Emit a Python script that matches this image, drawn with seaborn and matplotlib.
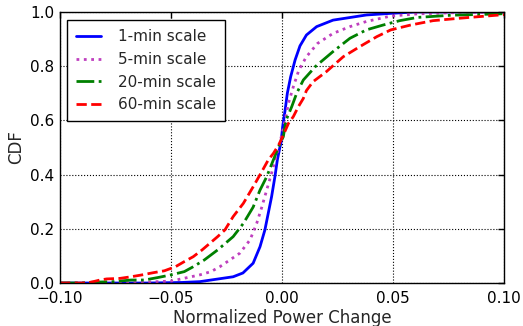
import numpy as np
import pandas as pd
import seaborn as sns
import matplotlib
matplotlib.use("Agg")
import matplotlib.pyplot as plt

# values (normalized power change, CDF)
x_1min = [-0.100, -0.060, -0.045, -0.037, -0.032, -0.022, -0.0176, -0.013, -0.0099, -0.0077,
          -0.0062, -0.0047, -0.0032, -0.0021, -0.0009, -0.0005, 0.0003, 0.0014, 0.0024,
          0.0039, 0.0059, 0.0081, 0.011, 0.0156, 0.023, 0.038, 0.049, 0.060, 0.100]
cdf_1min = [0.000, 0.000, 0.002, 0.005, 0.011, 0.023, 0.037, 0.073, 0.134, 0.196,
            0.257, 0.318, 0.392, 0.454, 0.503, 0.515, 0.577, 0.638, 0.700,
            0.761, 0.823, 0.875, 0.915, 0.946, 0.970, 0.989, 0.995, 1.000, 1.000]

x_5min = [-0.100, -0.070, -0.050, -0.037, -0.032, -0.028, -0.019, -0.0144, -0.0114, -0.0091,
          -0.0069, -0.0047, -0.0027, -0.0012, 0.0014, 0.0029, 0.0051, 0.0076, 0.011,
          0.0160, 0.023, 0.0306, 0.038, 0.049, 0.061, 0.080, 0.100]
cdf_5min = [0.000, 0.000, 0.007, 0.030, 0.042, 0.060, 0.110, 0.159, 0.220, 0.280,
            0.343, 0.405, 0.466, 0.509, 0.600, 0.663, 0.724, 0.786, 0.835,
            0.884, 0.921, 0.946, 0.965, 0.985, 0.993, 0.998, 1.000]

x_20min = [-0.100, -0.090, -0.085, -0.076, -0.068, -0.062, -0.056, -0.050, -0.044, -0.040,
           -0.035, -0.029, -0.022, -0.0174, -0.013, -0.0099, -0.0069, -0.0039, -0.0012,
           0.0006, 0.0018, 0.0044, 0.0066, 0.0096, 0.0152, 0.023, 0.0306, 0.038,
           0.0456, 0.053, 0.061, 0.076, 0.098, 0.100]
cdf_20min = [0.000, 0.000, 0.003, 0.005, 0.011, 0.011, 0.020, 0.030, 0.042, 0.060,
             0.085, 0.122, 0.171, 0.220, 0.280, 0.343, 0.392, 0.454, 0.509,
             0.540, 0.600, 0.651, 0.700, 0.749, 0.800, 0.854, 0.903, 0.934,
             0.952, 0.968, 0.980, 0.988, 0.993, 0.994]

x_60min = [-0.100, -0.088, -0.085, -0.082, -0.079, -0.073, -0.068, -0.063, -0.058, -0.053,
           -0.048, -0.044, -0.040, -0.036, -0.029, -0.0257, -0.022, -0.0174, -0.013,
           -0.0091, -0.0062, -0.0039, -0.0014, 0.0006, 0.0029, 0.0051, 0.0074, 0.0096,
           0.011, 0.014, 0.020, 0.0276, 0.035, 0.0427, 0.049, 0.058, 0.068, 0.080, 0.098, 0.100]
cdf_60min = [0.000, 0.000, 0.005, 0.011, 0.015, 0.017, 0.023, 0.030, 0.038, 0.045,
             0.060, 0.079, 0.097, 0.122, 0.171, 0.196, 0.245, 0.294, 0.355,
             0.411, 0.454, 0.478, 0.511, 0.546, 0.589, 0.614, 0.651, 0.681,
             0.710, 0.743, 0.780, 0.835, 0.872, 0.909, 0.934, 0.952, 0.968, 0.977, 0.989, 0.990]

labels = ["1-min scale", "5-min scale", "20-min scale", "60-min scale"]

sns.set_style("white", {"xtick.direction": "in", "ytick.direction": "in",
                        "axes.edgecolor": "black"})
plt.rcParams['font.family'] = ['DejaVu Sans']

series = [
    (x_1min, cdf_1min, "#0000ff", "-", 2.0),
    (x_5min, cdf_5min, "#bf3fbf", ":", 2.0),
    (x_20min, cdf_20min, "#008000", "-.", 2.0),
    (x_60min, cdf_60min, "#ff0000", "--", 2.0),
]

fig = plt.figure(figsize=(5.23, 3.26), dpi=100)
ax = fig.add_axes([0.1147, 0.1319, 0.8490, 0.8313])

for (xs, ys, col, ls, lw), lab in zip(series, labels):
    df = pd.DataFrame({"x": xs, "cdf": ys})
    sns.lineplot(data=df, x="x", y="cdf", ax=ax, color=col, linestyle=ls,
                 linewidth=lw, label=lab, estimator=None, sort=False)

ax.set_xlim(-0.1, 0.1)
ax.set_ylim(0, 1.0)
ax.set_xticks([-0.10, -0.05, 0.00, 0.05, 0.10])
ax.set_xticklabels(["\u22120.10", "\u22120.05", "0.00", "0.05", "0.10"])
ax.set_yticks([0.0, 0.2, 0.4, 0.6, 0.8, 1.0])
ax.grid(True, color="black", linestyle=":", linewidth=0.8)
ax.tick_params(axis="both", which="both", direction="in", length=4, width=1,
               top=True, right=True, labelsize=11, pad=4, colors="black")
ax.tick_params(axis="x", pad=6)
for sp in ax.spines.values():
    sp.set_visible(True)
    sp.set_color("black")
    sp.set_linewidth(1.0)

ax.set_xlabel("Normalized Power Change", fontsize=12, labelpad=2)
ax.set_ylabel("CDF", fontsize=12)

leg = ax.legend(loc="upper left", fontsize=11, frameon=True, fancybox=False,
                handlelength=1.6, handletextpad=1.1, borderpad=0.6,
                labelspacing=0.5, borderaxespad=0.0,
                bbox_to_anchor=(0.016, 0.97))
leg.get_frame().set_edgecolor("black")
leg.get_frame().set_linewidth(1.0)
leg.get_frame().set_alpha(1.0)

fig.savefig("out.png", dpi=100)
